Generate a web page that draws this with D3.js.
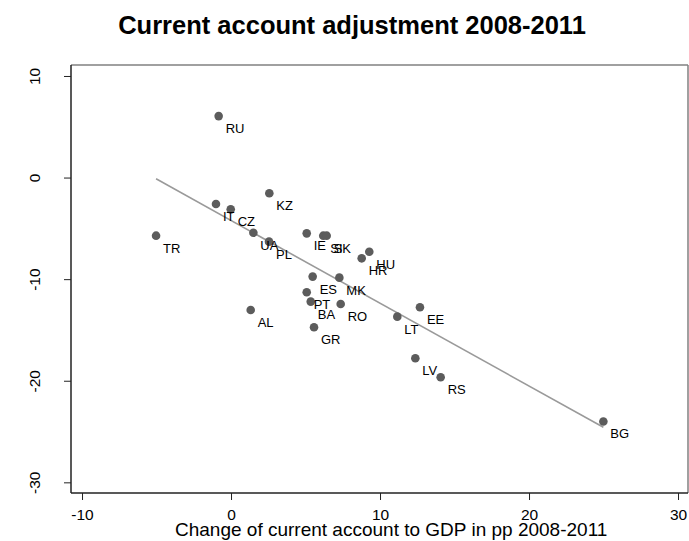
<!DOCTYPE html>
<html>
<head>
<meta charset="utf-8">
<script src="https://cdn.jsdelivr.net/npm/d3@7"></script>
<style>
  html, body { margin: 0; padding: 0; background: #fff; }
  svg { display: block; font-family: "Liberation Sans", Arial, sans-serif; }
</style>
</head>
<body>
<svg id="chart" width="689" height="541"></svg>
<script>
// Country codes and their current account changes (x) vs. second measure (y)
const countries = ["RU","TR","IT","CZ","KZ","UA","PL","IE","SI","SK","HR","HU","ES","MK","PT","BA","RO","GR","LT","EE","LV","RS","BG","AL"];
const caChange  = [-0.83,-5.03,-1.01,-0.02,2.57,1.50,2.55,5.08,6.19,6.42,8.77,9.28,5.48,7.27,5.08,5.35,7.36,5.57,11.16,12.68,12.37,14.07,24.99,1.32];
const yValues   = [6.05,-5.72,-2.60,-3.13,-1.55,-5.43,-6.31,-5.49,-5.72,-5.72,-7.95,-7.30,-9.75,-9.85,-11.29,-12.21,-12.44,-14.73,-13.69,-12.76,-17.78,-19.65,-24.01,-13.03];
const xTicks = [-10, 0, 10, 20, 30];
const yTicks = [-30, -20, -10, 0, 10];

const titleText = "Current account adjustment 2008-2011";
const xTitle = "Change of current account to GDP in pp 2008-2011";

const svg = d3.select("#chart");
const plotLeft = 71, plotRight = 688, plotTop = 65, plotBottom = 493;

const x = d3.scaleLinear().domain([-10.74, 30.67]).range([plotLeft, plotRight]);
const y = d3.scaleLinear().domain([-31.05, 11.08]).range([plotBottom, plotTop]);
const fmt = d => String(d);

// Title
svg.append("text")
  .attr("x", 352).attr("y", 34)
  .attr("text-anchor", "middle")
  .attr("font-size", 25.5).attr("font-weight", "bold")
  .attr("fill", "#000")
  .text(titleText);

// Plot region frame (top and right in grey)
svg.append("line").attr("x1", plotLeft).attr("x2", plotRight).attr("y1", plotTop).attr("y2", plotTop)
  .attr("stroke", "#808080").attr("stroke-width", 1.5);
svg.append("line").attr("x1", plotRight).attr("x2", plotRight).attr("y1", plotTop).attr("y2", plotBottom)
  .attr("stroke", "#808080").attr("stroke-width", 1.5);

// Axes
const xAxis = d3.axisBottom(x).tickValues(xTicks).tickFormat(fmt).tickSize(7).tickSizeOuter(0);
const yAxis = d3.axisLeft(y).tickValues(yTicks).tickFormat(fmt).tickSize(7).tickSizeOuter(0);

const gx = svg.append("g").attr("transform", `translate(0,${plotBottom})`).call(xAxis);
gx.select(".domain").attr("stroke", "#222").attr("stroke-width", 1.5)
  .attr("d", `M${plotLeft},0H${plotRight}`);
gx.selectAll(".tick line").attr("stroke", "#222").attr("stroke-width", 1);
gx.selectAll(".tick text")
  .attr("font-size", 15.5).attr("fill", "#000")
  .attr("font-family", "Liberation Sans, Arial, sans-serif")
  .attr("y", 27).attr("dy", null);

const gy = svg.append("g").attr("transform", `translate(${plotLeft},0)`).call(yAxis);
gy.select(".domain").attr("stroke", "#222").attr("stroke-width", 1.5)
  .attr("d", `M0,${plotTop}V${plotBottom}`);
gy.selectAll(".tick line").attr("stroke", "#222").attr("stroke-width", 1);
gy.selectAll(".tick text")
  .attr("font-size", 15.5).attr("fill", "#000")
  .attr("font-family", "Liberation Sans, Arial, sans-serif")
  .attr("text-anchor", "middle")
  .attr("x", 0).attr("dy", null)
  .attr("transform", "rotate(-90)")
  .attr("y", -31);

// X axis title
svg.append("text")
  .attr("x", 175).attr("y", 536)
  .attr("text-anchor", "start")
  .attr("font-size", 19).attr("fill", "#000")
  .text(xTitle);

// Linear fit over the observed range
const data = countries.map((c, i) => ({ c, x: caChange[i], y: yValues[i] }));
const mx = d3.mean(data, d => d.x), my = d3.mean(data, d => d.y);
const slope = d3.sum(data, d => (d.x - mx) * (d.y - my)) / d3.sum(data, d => (d.x - mx) ** 2);
const intercept = my - slope * mx;
const [xmin, xmax] = d3.extent(data, d => d.x);
svg.append("line")
  .attr("x1", x(xmin)).attr("y1", y(intercept + slope * xmin))
  .attr("x2", x(xmax)).attr("y2", y(intercept + slope * xmax))
  .attr("stroke", "#9a9a9a").attr("stroke-width", 1.6);

// Points and labels
svg.append("g").selectAll("circle").data(data).join("circle")
  .attr("cx", d => x(d.x)).attr("cy", d => y(d.y)).attr("r", 4.3)
  .attr("fill", "#5c5c5c");

svg.append("g").selectAll("text").data(data).join("text")
  .attr("x", d => x(d.x) + 7).attr("y", d => y(d.y) + 17)
  .attr("font-size", 13).attr("fill", "#000")
  .text(d => d.c);
</script>
</body>
</html>
